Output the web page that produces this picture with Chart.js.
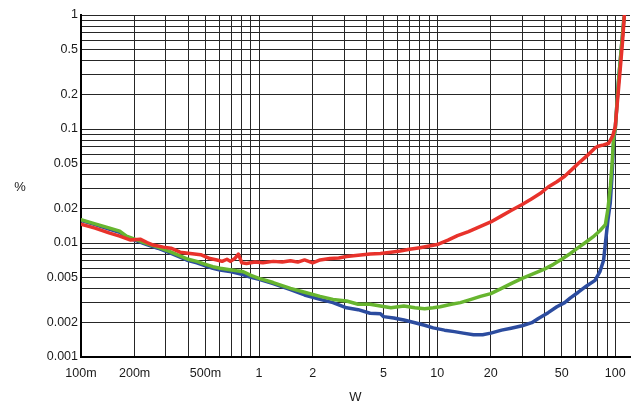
<!DOCTYPE html>
<html>
<head>
<meta charset="utf-8">
<script src="https://cdn.jsdelivr.net/npm/chart.js@4.4.1/dist/chart.umd.min.js"></script>
<style>
  html, body { margin: 0; padding: 0; background: #fff; }
  #wrap { width: 636px; height: 408px; }
</style>
</head>
<body>
<div id="wrap"><canvas id="c" width="636" height="408"></canvas></div>
<script>
// ---- data ----
const redX = [0.1,0.12,0.145,0.165,0.19,0.215,0.235,0.255,0.29,0.32,0.36,0.41,0.47,0.53,0.58,0.62,0.66,0.69,0.73,0.765,0.8,0.85,0.95,1.05,1.2,1.35,1.5,1.65,1.8,2.0,2.2,2.5,2.8,3.1,3.6,4.2,4.8,5.5,6.2,7,8,9,10,11.5,13,15,17,20,23,26,30,34,38,42,47,52,57,63,70,77,80,86,92,97,100,102,106,110,112.5];
const redY = [0.0146,0.0135,0.0122,0.0115,0.0106,0.0108,0.0101,0.0096,0.0092,0.0090,0.0083,0.0081,0.0079,0.0073,0.0071,0.0069,0.0072,0.0069,0.0073,0.0080,0.0067,0.0066,0.0068,0.0067,0.0069,0.0068,0.0070,0.0068,0.0071,0.0067,0.0071,0.0073,0.0074,0.0076,0.0078,0.0080,0.0081,0.0083,0.0085,0.0088,0.0091,0.0094,0.0097,0.0106,0.0116,0.0126,0.0137,0.0153,0.0173,0.0193,0.0218,0.0245,0.0273,0.0310,0.0345,0.0385,0.0440,0.0510,0.0590,0.0680,0.0705,0.0725,0.0750,0.0880,0.105,0.15,0.3,0.6,1.0];

const greenX = [0.1,0.12,0.145,0.165,0.18,0.2,0.234,0.27,0.316,0.36,0.4,0.447,0.5,0.55,0.604,0.7,0.75,0.816,0.9,1.0,1.2,1.5,1.8,2.2,2.6,3.1,3.6,4.2,4.8,5.5,6.5,7.5,8.5,9.5,10.4,12,13.5,15.5,17.5,20,23,26,30,34,40,45,50,56,62,68,75,82,88,91,94,96,98,100,104,108,112];
const greenY = [0.0160,0.0147,0.0135,0.0127,0.0115,0.0108,0.0099,0.0092,0.0084,0.0077,0.0072,0.0069,0.0065,0.0062,0.0060,0.0058,0.0057,0.0056,0.0052,0.0049,0.0045,0.0040,0.0037,0.0034,0.0032,0.0031,0.0029,0.0029,0.0028,0.0027,0.0028,0.0027,0.00265,0.0027,0.00276,0.0029,0.0030,0.0032,0.0034,0.0036,0.0040,0.0044,0.0049,0.0053,0.0059,0.0065,0.0072,0.0081,0.0091,0.0101,0.0113,0.0128,0.0145,0.0200,0.0320,0.050,0.086,0.10,0.25,0.5,0.95];

const blueX = [0.1,0.12,0.145,0.165,0.18,0.2,0.234,0.27,0.316,0.36,0.4,0.447,0.5,0.55,0.604,0.7,0.8,0.9,1.0,1.2,1.5,1.8,2.2,2.6,3.1,3.6,4.2,4.8,5.0,5.7,6.5,7.5,8.5,9.5,11,12.5,14,16,18,20,23,26,30,34,37,42,47,52,56,62,69,77,82,86,88,91,93.7,96,98,100,104,108,112];
const blueY = [0.0158,0.0145,0.0132,0.0124,0.0113,0.0106,0.0097,0.0090,0.0082,0.0075,0.0070,0.0067,0.0063,0.0060,0.0058,0.0056,0.0053,0.0050,0.0048,0.0044,0.0039,0.0035,0.0032,0.0030,0.0027,0.0026,0.00242,0.00240,0.00226,0.00220,0.00211,0.00200,0.00190,0.00180,0.00172,0.00167,0.00162,0.00157,0.00157,0.00162,0.00172,0.00179,0.00188,0.00200,0.00218,0.00245,0.00276,0.00300,0.00330,0.00370,0.00420,0.00470,0.00560,0.00706,0.0099,0.016,0.0223,0.04,0.08,0.10,0.25,0.5,0.95];

const xTickValues = [0.1,0.2,0.5,1,2,5,10,20,50,100];
const xTickLabels = ['100m','200m','500m','1','2','5','10','20','50','100'];
const yTickValues = [1,0.5,0.2,0.1,0.05,0.02,0.01,0.005,0.002,0.001];
const yTickLabels = ['1','0.5','0.2','0.1','0.05','0.02','0.01','0.005','0.002','0.001'];

// grid line positions (1..9 x 10^n)
function decadeGrid(eFrom, eTo) {
  const out = [];
  for (let e = eFrom; e < eTo; e++) {
    for (let m = 1; m <= 9; m++) out.push(Number((m * Math.pow(10, e)).toPrecision(3)));
  }
  out.push(Number(Math.pow(10, eTo).toPrecision(3)));
  return out;
}
const xGrid = decadeGrid(-1, 2);
const yGrid = decadeGrid(-3, 0);

function pts(xs, ys) { return xs.map((x, i) => ({ x: x, y: ys[i] })); }
function labelFor(v, vals, labs) {
  for (let i = 0; i < vals.length; i++) {
    if (Math.abs(v - vals[i]) / vals[i] < 1e-6) return labs[i];
  }
  return '';
}

const FONT = "'Liberation Sans', Arial, sans-serif";
const TXT = '#1a1a1a';
const GRID = '#262626';

const pctTitle = {
  id: 'pctTitle',
  afterDraw(chart) {
    const ctx = chart.ctx;
    ctx.save();
    ctx.font = '13px ' + FONT;
    ctx.fillStyle = TXT;
    ctx.textAlign = 'center';
    ctx.textBaseline = 'middle';
    ctx.fillText('%', 20, 187);
    ctx.restore();
  }
};

new Chart(document.getElementById('c'), {
  type: 'line',
  data: {
    datasets: [
      { label: 'red', data: pts(redX, redY), borderColor: '#e8322b', borderWidth: 3.5 },
      { label: 'green', data: pts(greenX, greenY), borderColor: '#67b52f', borderWidth: 3.5 },
      { label: 'blue', data: pts(blueX, blueY), borderColor: '#2c4c9f', borderWidth: 3.5 }
    ]
  },
  options: {
    responsive: false,
    animation: false,
    parsing: true,
    layout: { padding: { left: 0, right: 6, top: 15, bottom: 0 } },
    elements: {
      point: { radius: 0 },
      line: { tension: 0, borderJoinStyle: 'round', borderCapStyle: 'round', fill: false }
    },
    plugins: { legend: { display: false }, tooltip: { enabled: false } },
    scales: {
      x: {
        type: 'logarithmic',
        min: 0.1,
        max: 121,
        afterBuildTicks(s) { s.ticks = xGrid.map(v => ({ value: v })); },
        afterFit(s) { s.height = 51; },
        grid: { color: GRID, lineWidth: 1, drawTicks: false },
        border: { display: true, color: '#000', width: 2 },
        ticks: {
          autoSkip: false, maxRotation: 0, padding: 9,
          color: TXT, font: { family: FONT, size: 12.5 },
          callback: (v) => labelFor(v, xTickValues, xTickLabels)
        },
        title: { display: true, text: 'W', color: TXT, font: { family: FONT, size: 13 }, padding: { top: 0, bottom: 3 } }
      },
      y: {
        type: 'logarithmic',
        min: 0.001,
        max: 1,
        afterBuildTicks(s) { s.ticks = yGrid.map(v => ({ value: v })); },
        afterFit(s) { s.width = 81; },
        grid: { color: GRID, lineWidth: 1, drawTicks: false },
        border: { display: true, color: '#000', width: 2 },
        ticks: {
          autoSkip: false, padding: 3,
          color: TXT, font: { family: FONT, size: 12.5 },
          callback: (v) => labelFor(v, yTickValues, yTickLabels)
        }
      }
    }
  },
  plugins: [pctTitle]
});
</script>
</body>
</html>
